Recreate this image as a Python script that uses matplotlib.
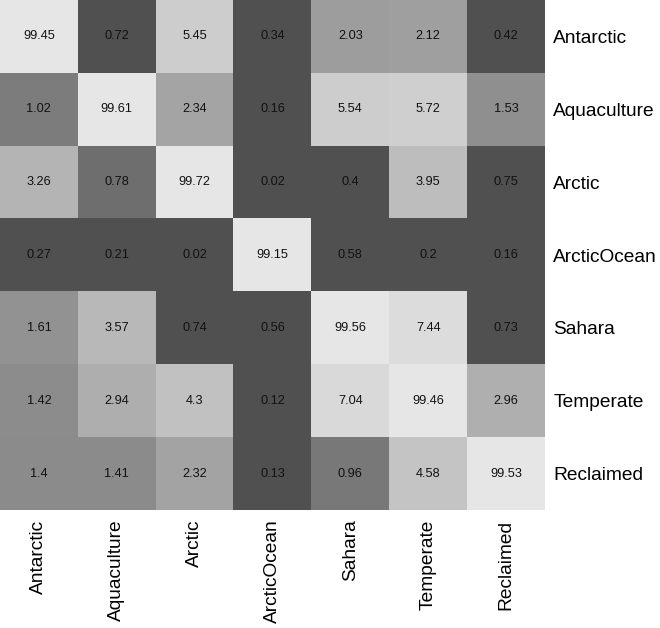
import numpy as np
import matplotlib
matplotlib.use("Agg")
import matplotlib.pyplot as plt
from matplotlib.colors import LinearSegmentedColormap, LogNorm

plt.rcParams['font.family'] = ['Liberation Sans', 'DejaVu Sans']

labels = ["Antarctic", "Aquaculture", "Arctic", "ArcticOcean", "Sahara", "Temperate", "Reclaimed"]
values = np.array([
    [99.45, 0.72, 5.45, 0.34, 2.03, 2.12, 0.42],
    [1.02, 99.61, 2.34, 0.16, 5.54, 5.72, 1.53],
    [3.26, 0.78, 99.72, 0.02, 0.4, 3.95, 0.75],
    [0.27, 0.21, 0.02, 99.15, 0.58, 0.2, 0.16],
    [1.61, 3.57, 0.74, 0.56, 99.56, 7.44, 0.73],
    [1.42, 2.94, 4.3, 0.12, 7.04, 99.46, 2.96],
    [1.4, 1.41, 2.32, 0.13, 0.96, 4.58, 99.53],
])
value_text = [
    ["99.45", "0.72", "5.45", "0.34", "2.03", "2.12", "0.42"],
    ["1.02", "99.61", "2.34", "0.16", "5.54", "5.72", "1.53"],
    ["3.26", "0.78", "99.72", "0.02", "0.4", "3.95", "0.75"],
    ["0.27", "0.21", "0.02", "99.15", "0.58", "0.2", "0.16"],
    ["1.61", "3.57", "0.74", "0.56", "99.56", "7.44", "0.73"],
    ["1.42", "2.94", "4.3", "0.12", "7.04", "99.46", "2.96"],
    ["1.4", "1.41", "2.32", "0.13", "0.96", "4.58", "99.53"],
]

cmap = LinearSegmentedColormap.from_list("grays", ["#6e6e6e", "#e6e6e6"])
cmap.set_under("#505050")
cmap.set_over("#e6e6e6")
norm = LogNorm(vmin=0.76, vmax=9.2)

fig = plt.figure(figsize=(6.6, 6.28), dpi=100)
ax = fig.add_axes([0, 1 - 510 / 628, 545 / 660, 510 / 628])
ax.imshow(values, cmap=cmap, norm=norm, aspect="auto", interpolation="nearest")

for i in range(len(labels)):
    for j in range(len(labels)):
        ax.text(j, i, value_text[i][j], ha="center", va="center", fontsize=9.2, color="#111111")

ax.set_xticks(range(len(labels)))
ax.set_xticklabels(labels, rotation=90, fontsize=13.8)
ax.set_yticks(range(len(labels)))
ax.set_yticklabels(labels, fontsize=13.8)
ax.yaxis.tick_right()
ax.tick_params(axis="y", length=0, pad=6)
ax.tick_params(axis="x", length=0, pad=7)
for s in ax.spines.values():
    s.set_visible(False)

fig.savefig("out.png", dpi=100)
